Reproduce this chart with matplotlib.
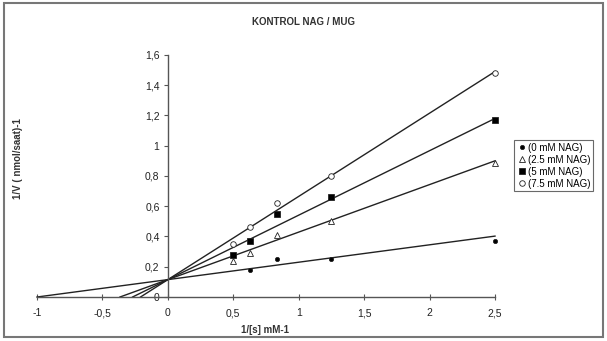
import numpy as np
import matplotlib
matplotlib.use("Agg")
import matplotlib.pyplot as plt
from matplotlib.patches import Rectangle

plt.rcParams["font.family"] = ["Liberation Sans", "DejaVu Sans"]

# 1/[S] values (mM-1)
inv_s = [0.5, 0.625, 0.833, 1.25, 2.5]

# 1/V for each NAG concentration (None = no point)
v_0 = [None, 0.18, 0.25, 0.25, 0.37]
v_25 = [0.24, 0.29, 0.41, 0.50, 0.885]
v_5 = [0.275, 0.37, 0.55, 0.66, 1.17]
v_75 = [0.35, 0.46, 0.62, 0.80, 1.48]

# trendline params: intercept, slope
intercepts = [0.115, 0.115, 0.115, 0.115]
slopes = [0.115, 0.314, 0.426, 0.55]

labels = ["(0 mM NAG)", "(2.5 mM NAG)", "(5 mM NAG)", "(7.5 mM NAG)"]
markers = ["o", "^", "s", "o"]
faces = ["black", "white", "black", "white"]
sizes = [3, 4, 4, 4]

x_ticks = [-1, -0.5, 0, 0.5, 1, 1.5, 2, 2.5]
y_ticks = [0, 0.2, 0.4, 0.6, 0.8, 1, 1.2, 1.4, 1.6]


def fmt(v):
    s = ("%g" % v).replace(".", ",")
    return s


def main():
    fig = plt.figure(figsize=(6.07, 3.41), dpi=100, facecolor="white")
    ax = fig.add_axes([0.061, 0.129, 0.7545, 0.71])

    series = [v_0, v_25, v_5, v_75]
    for i, vals in enumerate(series):
        b, m = intercepts[i], slopes[i]
        x0 = -b / m
        ax.plot([x0, 2.5], [0, b + m * 2.5], color="#222222", lw=1.0, clip_on=False)
        xs = [x for x, y in zip(inv_s, vals) if y is not None]
        ys = [y for y in vals if y is not None]
        ax.plot(xs, ys, linestyle="none", marker=markers[i], ms=sizes[i],
                mfc=faces[i], mec="#222222", mew=0.6, label=labels[i],
                clip_on=False, zorder=3)

    ax.set_xlim(-1, 2.5)
    ax.set_ylim(0, 1.6)
    ax.spines["left"].set_position(("data", 0))
    ax.spines["bottom"].set_position(("data", 0))
    ax.spines["top"].set_visible(False)
    ax.spines["right"].set_visible(False)
    for sp in ["left", "bottom"]:
        ax.spines[sp].set_color("#555555")
        ax.spines[sp].set_linewidth(1.0)

    ax.set_xticks(x_ticks)
    ax.set_xticklabels([fmt(v) for v in x_ticks])
    ax.set_yticks(y_ticks)
    ax.set_yticklabels([fmt(v) for v in y_ticks])
    ax.tick_params(axis="both", labelsize=7.5, length=3, width=0.8,
                   color="#555555", labelcolor="#222222")
    ax.tick_params(axis="x", direction="inout", length=4, pad=6)
    ax.tick_params(axis="y", direction="out", pad=3)

    fig.text(0.5, 0.935, "KONTROL NAG / MUG", ha="center", va="center",
             fontsize=7, fontweight="bold", color="#333333")
    fig.text(0.03, 0.535, "1/V ( nmol/saat)-1", ha="center", va="center",
             rotation=90, fontsize=7, fontweight="bold", color="#333333")
    fig.text(0.437, 0.033, "1/[s] mM-1", ha="center", va="center",
             fontsize=7, fontweight="bold", color="#333333")

    leg = ax.legend(loc="upper left", bbox_to_anchor=(0.847, 0.59),
                    bbox_transform=fig.transFigure, fontsize=7, frameon=True,
                    fancybox=False, edgecolor="#444444", borderpad=0.3,
                    handletextpad=0.1, handlelength=1.0, labelspacing=0.2,
                    borderaxespad=0)
    leg.get_frame().set_linewidth(0.8)

    fig.patches.append(Rectangle((0.007, 0.012), 0.986, 0.98, transform=fig.transFigure,
                                 fill=False, edgecolor="#777777", lw=1.5))

    fig.savefig("out.png", dpi=100, facecolor="white")


if __name__ == "__main__":
    main()
